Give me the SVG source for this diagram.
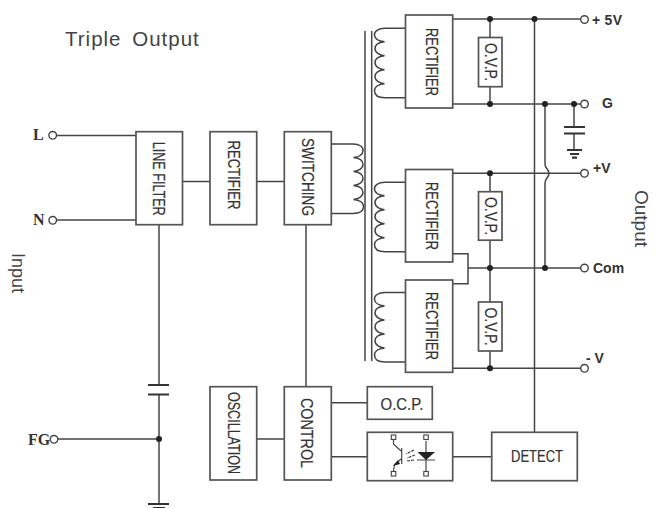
<svg xmlns="http://www.w3.org/2000/svg" width="664" height="508" viewBox="0 0 664 508">
<style>
.w{fill:none;stroke:#454545;stroke-width:1.5}
.p{fill:none;stroke:#333;stroke-width:2.200}
.b{fill:#fff;stroke:#555;stroke-width:1.700}
.d{fill:#222}
.o{fill:#fff;stroke:#444;stroke-width:1.400}
.t{font-family:"Liberation Sans",Arial,sans-serif;font-size:16px;fill:#333;stroke:#333;stroke-width:.2;text-anchor:middle;dominant-baseline:central}
.l{font-family:"Liberation Sans",Arial,sans-serif;font-size:14px;font-weight:bold;fill:#333}
.s{font-family:"Liberation Serif","Times New Roman",serif;font-size:16px;font-weight:bold;fill:#333}
.g{font-family:"Liberation Sans",Arial,sans-serif;fill:#444}
</style>
<defs>
<path id="coil" class="w" d="M31 0H10C3 0-1 3-.5 7C0 11 5 13 9.500 13.500C4 14 0 16.500 0 20.500C0 24.500 5 27 9.500 27.500C4 28 0 30.500 0 34.500C0 38.500 5 41 9.500 41.500C4 42 0 44.500 0 48.500C0 52.500 5 55 9.500 55.500C4 56 -.5 58.500 -.5 62.500C-.5 66.500 3 69.500 10 69.500H31"/>
<circle id="dot" class="d" r="3"/>
<circle id="term" class="o" r="3.800"/>
</defs>
<g id="connectors">
<path class="w" d="M57 135.500H136M57 220H136M182 181.500H210M257 181.500H284"/>
<path class="w" d="M159 225V385M159 394.500V504M57.500 439H159"/>
<path class="p" d="M148 385H169M148 394.500H169M148 504H169M153 508H165"/>
<path class="w" d="M306 225V387M257 439H284M331 402.700H367M331 456.700H367M453 456.700H492"/>
<path class="w" d="M365 31V361M371.700 31V361"/>
<path class="w" d="M453 19H581M453 104H581M453 173.300H581M468 268H581M453 368.300H581"/>
<path class="w" d="M490 19V38M490 87V104M490 173.300V192M490 240V302M490 351V368.300"/>
<path class="w" d="M453 253.700H468V283.700H453"/>
<path class="w" d="M534.500 19V432"/>
<path class="w" d="M545 104V164C545 169 549 169 549 173.300C549 177.500 545 178 545 183V268"/>
<path class="w" d="M574 104V127M574 133.500V150"/>
<path class="p" d="M564 127H585M564 133.500H585M567 150H582M570 154H579M572 157.700H577"/>
<path class="w" d="M331 144H353C360 144 363.500 147 363 151C362.500 155 358 157 353.500 157.500C359 158 363 160.500 363 164.500C363 168.500 358 171 353.500 171.500C359 172 363 174.500 363 178.500C363 182.500 358 185 353.500 185.500C359 186 363 188.500 363 192.500C363 196.500 358 199 353.500 199.500C359 200 363.500 202.500 363.500 206.500C363.500 210.500 360 213.500 353 213.500H331"/>
<use href="#coil" x="375" y="28.300"/>
<use href="#coil" x="375" y="182.300"/>
<use href="#coil" x="375" y="292.500"/>
<use href="#dot" x="159" y="439"/>
<use href="#dot" x="490" y="19"/><use href="#dot" x="534.500" y="19"/>
<use href="#dot" x="490" y="104"/><use href="#dot" x="545" y="104"/><use href="#dot" x="574" y="104"/>
<use href="#dot" x="490" y="173.300"/><use href="#dot" x="490" y="268"/><use href="#dot" x="545" y="268"/><use href="#dot" x="490" y="368.300"/>
</g>
<g id="title"><text class="g" x="65" y="46" style="word-spacing:4px;letter-spacing:1px;font-size:20.500px">Triple Output</text></g>
<g id="input-label"><text class="g" transform="translate(12 253) rotate(90)" style="font-size:18px">Input</text></g>
<g id="output-label"><text class="g" transform="translate(635 190) rotate(90)" style="font-size:19px">Output</text></g>
<g id="term-L"><use href="#term" x="52.700" y="135.300"/><text class="s" x="33" y="140">L</text></g>
<g id="term-N"><use href="#term" x="52.700" y="220.300"/><text class="s" x="33" y="225">N</text></g>
<g id="term-FG"><use href="#term" x="54" y="439.300"/><text class="s" x="28" y="445">FG</text></g>
<g id="term-5V"><use href="#term" x="584.500" y="19.500"/><text class="l" x="592" y="25" textLength="30">+ 5V</text></g>
<g id="term-G"><use href="#term" x="584.500" y="104"/><text class="l" x="602" y="108">G</text></g>
<g id="term-pV"><use href="#term" x="584.500" y="173.300"/><text class="l" x="593" y="173">+V</text></g>
<g id="term-Com"><use href="#term" x="584.500" y="268"/><text class="l" x="593" y="273">Com</text></g>
<g id="term-nV"><use href="#term" x="584.500" y="368.300"/><text class="l" x="586" y="363">- V</text></g>
<g id="line-filter"><rect class="b" x="136" y="131.700" width="46.500" height="93"/><text class="t" transform="translate(158.500 178.700) rotate(90)" textLength="74" lengthAdjust="spacingAndGlyphs">LINE FILTER</text></g>
<g id="rectifier-in"><rect class="b" x="210" y="131.700" width="46.700" height="93"/><text class="t" transform="translate(233 175) rotate(90)" textLength="69" lengthAdjust="spacingAndGlyphs">RECTIFIER</text></g>
<g id="switching"><rect class="b" x="284.300" y="131.700" width="47" height="93"/><text class="t" transform="translate(307.500 177) rotate(90)" textLength="78" lengthAdjust="spacingAndGlyphs">SWITCHING</text></g>
<g id="rectifier-1"><rect class="b" x="405.500" y="15" width="47.200" height="93"/><text class="t" transform="translate(431 62) rotate(90)" textLength="68" lengthAdjust="spacingAndGlyphs">RECTIFIER</text></g>
<g id="rectifier-2"><rect class="b" x="405.500" y="169.500" width="47.200" height="92.500"/><text class="t" transform="translate(431 216) rotate(90)" textLength="68" lengthAdjust="spacingAndGlyphs">RECTIFIER</text></g>
<g id="rectifier-3"><rect class="b" x="405.500" y="280" width="47.200" height="92.300"/><text class="t" transform="translate(431 326) rotate(90)" textLength="68" lengthAdjust="spacingAndGlyphs">RECTIFIER</text></g>
<g id="ovp-1"><rect class="b" x="478.500" y="37.500" width="23.500" height="49.200"/><text class="t" transform="translate(490.300 62) rotate(90)" textLength="38" lengthAdjust="spacingAndGlyphs">O.V.P.</text></g>
<g id="ovp-2"><rect class="b" x="478.500" y="191.700" width="23.500" height="48.500"/><text class="t" transform="translate(490.300 216) rotate(90)" textLength="38" lengthAdjust="spacingAndGlyphs">O.V.P.</text></g>
<g id="ovp-3"><rect class="b" x="478.500" y="302" width="23.500" height="49"/><text class="t" transform="translate(490.300 326.500) rotate(90)" textLength="38" lengthAdjust="spacingAndGlyphs">O.V.P.</text></g>
<g id="oscillation"><rect class="b" x="210" y="386.700" width="46.700" height="93.300"/><text class="t" transform="translate(233 433) rotate(90)" textLength="82" lengthAdjust="spacingAndGlyphs">OSCILLATION</text></g>
<g id="control"><rect class="b" x="284.300" y="386.700" width="47" height="93.300"/><text class="t" transform="translate(306.500 433) rotate(90)" textLength="70" lengthAdjust="spacingAndGlyphs">CONTROL</text></g>
<g id="ocp"><rect class="b" x="367.300" y="386.700" width="65" height="32.600"/><text class="t" x="402" y="404" textLength="43" lengthAdjust="spacingAndGlyphs">O.C.P.</text></g>
<g id="opto"><rect class="b" x="367.300" y="432.300" width="85.400" height="48.400"/>
<path class="w" d="M393.500 440V444L401 451M401 459L394.500 464.500L393.500 471M401.700 448V464M426 441V471M417 460H435" style="stroke-width:1.200"/>
<path class="d" d="M417.500 452H435L426 460ZM393 466L398 460L400 464Z"/>
<path class="w" d="M414 450L406 454M415 455L407 458M414 460L407 461" style="stroke-width:1.200;stroke-dasharray:3 1"/>
<g style="fill:#fff;stroke:#444;stroke-width:1.100"><rect x="391.300" y="435" width="4.500" height="4.500"/><rect x="391.300" y="471.500" width="4.500" height="4.500"/><rect x="423.800" y="435" width="4.500" height="4.500"/><rect x="423.800" y="471.500" width="4.500" height="4.500"/></g></g>
<g id="detect"><rect class="b" x="491.700" y="432.300" width="85.600" height="48.400"/><text class="t" x="537" y="456" textLength="52" lengthAdjust="spacingAndGlyphs">DETECT</text></g>
</svg>
